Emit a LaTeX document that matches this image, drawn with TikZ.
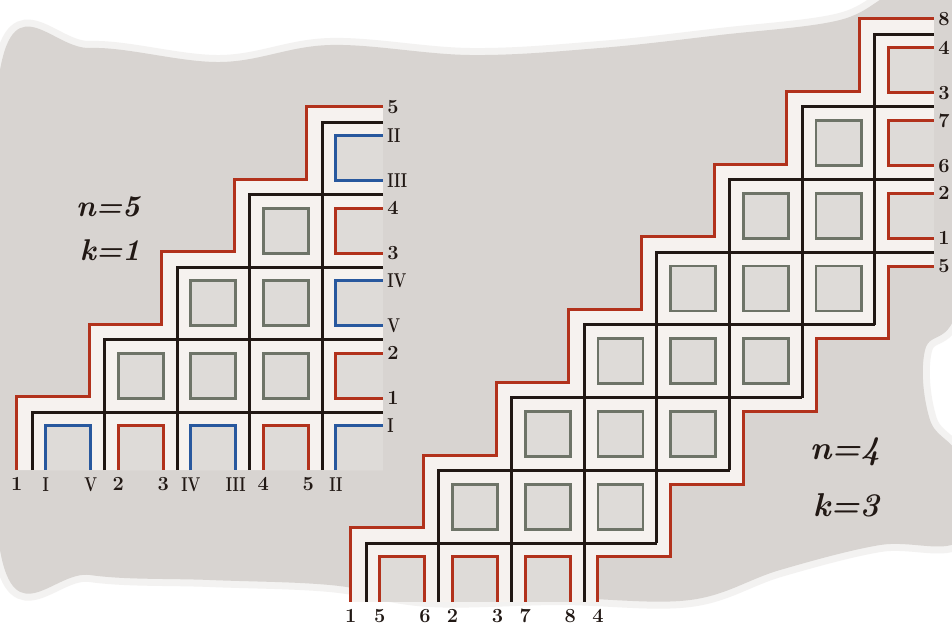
\documentclass[tikz,border=0pt]{standalone}
\usepackage{tikz}
\usepackage{graphicx}
\usetikzlibrary{positioning}

\definecolor{wash}{RGB}{216,212,209}
\definecolor{paper}{RGB}{246,242,239}
\definecolor{boxfill}{RGB}{222,219,216}
\definecolor{boxline}{RGB}{110,116,104}
\definecolor{ink}{RGB}{33,24,20}
\definecolor{wirered}{RGB}{178,50,28}
\definecolor{wireblue}{RGB}{40,88,158}

\newcommand{\rn}[1]{\scalebox{0.75}[1]{#1}}

\tikzset{
  grid line/.style={draw=ink, line width=3pt},
  wire/.style={line width=3pt},
  tile/.style={fill=boxfill, draw=boxline, line width=2.8pt},
  pocket/.style={fill=boxfill},
  edge label/.style={font=\fontsize{20}{20}\selectfont\bfseries, text=ink, inner sep=0pt},
  param/.style={font=\fontsize{30}{30}\selectfont\bfseries\itshape, text=ink, inner sep=0pt}
}

\begin{document}
\begin{tikzpicture}[x=1pt, y=-1pt]
    \useasboundingbox (0,0) rectangle (952,630);

    % Background wash
    \fill[white] (0,0) rectangle (952,630);
    \draw[wash, line width=14pt, opacity=0.3] plot[smooth cycle, tension=0.6] coordinates {(0,70) (90,48) (220,62) (330,45) (470,55) (600,48) (720,35) (840,20) (900,-10) (960,-10) (960,290) (925,350) (930,420) (960,460) (960,540) (880,545) (780,570) (690,600) (560,598) (430,600) (330,585) (210,580) (90,575) (0,550)};
    \fill[wash] plot[smooth cycle, tension=0.6] coordinates {(0,70) (90,48) (220,62) (330,45) (470,55) (600,48) (720,35) (840,20) (900,-10) (960,-10) (960,290) (925,350) (930,420) (960,460) (960,540) (880,545) (780,570) (690,600) (560,598) (430,600) (330,585) (210,580) (90,575) (0,550)};

    % Left diagram: n=5, k=1
    \begin{scope}[shift={(32pt,-412pt)}, x=72.5pt, y=72.5pt]
        % Corridor
        \fill[paper] (4.84,-0.8) -- (-0.21,-0.8) -- (-0.21,0.21) -- (0.79,0.21) -- (0.79,1.21) -- (1.79,1.21) -- (1.79,2.21) -- (2.79,2.21) -- (2.79,3.21) -- (3.79,3.21) -- (3.79,4.21) -- (4.84,4.21) -- cycle;

        % Inner tiles
        \foreach \i/\j in {1/0,2/0,3/0,2/1,3/1,3/2}
            \draw[tile] (\i+0.19,\j+0.19) rectangle (\i+0.81,\j+0.81);

        % Pockets on the open sides
        \foreach \i in {0,...,3}
            \fill[pocket] (\i+0.19,-0.8) rectangle (\i+0.81,-0.19);
        \foreach \j in {0,...,3}
            \fill[pocket] (4.19,\j+0.19) rectangle (4.84,\j+0.81);
        \fill[pocket] (4.19,-0.8) rectangle (4.84,-0.19);

        % Grid walls
        \foreach \i in {0,...,4}
            \draw[grid line] (\i,-0.8) -- (\i,\i) -- (4.84,\i);

        % Outer wire
        \draw[wire, wirered] (-0.21,-0.8) node[edge label, below=6pt] (lOut1) {1} -- (-0.21,0.21) -- (0.79,0.21) -- (0.79,1.21) -- (1.79,1.21) -- (1.79,2.21) -- (2.79,2.21) -- (2.79,3.21) -- (3.79,3.21) -- (3.79,4.21) -- (4.84,4.21) node[edge label, right=3pt] (lOut5) {5};

        % Bottom wires
        \foreach \i/\c/\a/\b in {0/wireblue/\rn{I}/\rn{V}, 1/wirered/2/3, 2/wireblue/\rn{IV}/\rn{III}, 3/wirered/4/5}
            \draw[wire, \c] (\i+0.19,-0.8) node[edge label, below=6pt] (lBot\i a) {\a} -- (\i+0.19,-0.19) -- (\i+0.81,-0.19) -- (\i+0.81,-0.8) node[edge label, below=6pt] (lBot\i b) {\b};

        % Right wires
        \foreach \j/\c/\a/\b in {0/wirered/2/1, 1/wireblue/\rn{IV}/\rn{V}, 2/wirered/4/3, 3/wireblue/\rn{II}/\rn{III}}
            \draw[wire, \c] (4.84,\j+0.81) node[edge label, right=3pt] (lRgt\j a) {\a} -- (4.19,\j+0.81) -- (4.19,\j+0.19) -- (4.84,\j+0.19) node[edge label, right=3pt] (lRgt\j b) {\b};

        % Corner wire
        \draw[wire, wireblue] (4.19,-0.8) node[edge label, below=6pt] (lCrnA) {\rn{II}} -- (4.19,-0.19) -- (4.84,-0.19) node[edge label, right=3pt] (lCrnB) {\rn{I}};
    \end{scope}

    % Right diagram: n=4, k=3
    \begin{scope}[shift={(366pt,-543pt)}, x=72.7pt, y=72.7pt]
        % Corridor
        \fill[paper] (-0.21,-0.81) -- (-0.21,0.21) -- (0.79,0.21) -- (0.79,1.21) -- (1.79,1.21) -- (1.79,2.21) -- (2.79,2.21) -- (2.79,3.21) -- (3.79,3.21) -- (3.79,4.21) -- (4.79,4.21) -- (4.79,5.21) -- (5.79,5.21) -- (5.79,6.21) -- (6.79,6.21) -- (6.79,7.21) -- (7.81,7.21) -- (7.81,3.81) -- (7.19,3.81) -- (7.19,2.81) -- (6.19,2.81) -- (6.19,1.81) -- (5.19,1.81) -- (5.19,0.81) -- (4.19,0.81) -- (4.19,-0.19) -- (3.19,-0.19) -- (3.19,-0.81) -- cycle;

        % Inner tiles
        \foreach \i/\j in {1/0,2/0,2/1,3/0,3/1,3/2,4/1,4/2,4/3,5/2,5/3,5/4,6/3,6/4,6/5}
            \draw[tile] (\i+0.19,\j+0.19) rectangle (\i+0.81,\j+0.81);

        % Pockets on the open sides
        \foreach \i in {0,1,2}
            \fill[pocket] (\i+0.19,-0.81) rectangle (\i+0.81,-0.19);
        \foreach \j in {4,5,6}
            \fill[pocket] (7.19,\j+0.19) rectangle (7.81,\j+0.81);

        % Grid walls
        \foreach \i/\lo/\hi in {0/-0.81/4, 1/-0.81/5, 2/-0.81/6, 3/-0.81/7, 4/0/7.81, 5/1/7.81, 6/2/7.81, 7/3/7.81}
            \draw[grid line] (\i,\lo) -- (\i,\i) -- (\hi,\i);

        % Outer wires
        \draw[wire, wirered] (-0.21,-0.81) node[edge label, below=6pt] (rOut1) {1} -- (-0.21,0.21) -- (0.79,0.21) -- (0.79,1.21) -- (1.79,1.21) -- (1.79,2.21) -- (2.79,2.21) -- (2.79,3.21) -- (3.79,3.21) -- (3.79,4.21) -- (4.79,4.21) -- (4.79,5.21) -- (5.79,5.21) -- (5.79,6.21) -- (6.79,6.21) -- (6.79,7.21) -- (7.81,7.21) node[edge label, right=3pt] (rOut8) {8};
        \draw[wire, wirered] (3.19,-0.81) node[edge label, below=6pt] (rOut4) {4} -- (3.19,-0.19) -- (4.19,-0.19) -- (4.19,0.81) -- (5.19,0.81) -- (5.19,1.81) -- (6.19,1.81) -- (6.19,2.81) -- (7.19,2.81) -- (7.19,3.81) -- (7.81,3.81) node[edge label, right=3pt] (rOut5) {5};

        % Bottom wires
        \foreach \i/\a/\b in {0/5/6, 1/2/3, 2/7/8}
            \draw[wire, wirered] (\i+0.19,-0.81) node[edge label, below=6pt] (rBot\i a) {\a} -- (\i+0.19,-0.19) -- (\i+0.81,-0.19) -- (\i+0.81,-0.81) node[edge label, below=6pt] (rBot\i b) {\b};

        % Right wires
        \foreach \j/\a/\b in {4/2/1, 5/7/6, 6/4/3}
            \draw[wire, wirered] (7.81,\j+0.81) node[edge label, right=3pt] (rRgt\j a) {\a} -- (7.19,\j+0.81) -- (7.19,\j+0.19) -- (7.81,\j+0.19) node[edge label, right=3pt] (rRgt\j b) {\b};
    \end{scope}

    % Parameters
    \node[param] (nL) at (108,207) {n=5};
    \node[param] (kL) at (110,250) {k=1};
    \node[param, font=\fontsize{33}{33}\selectfont\bfseries\itshape] (nR) at (845,452) {n=4};
    \node[param, font=\fontsize{33}{33}\selectfont\bfseries\itshape] (kR) at (846,505) {k=3};
\end{tikzpicture}
\end{document}
